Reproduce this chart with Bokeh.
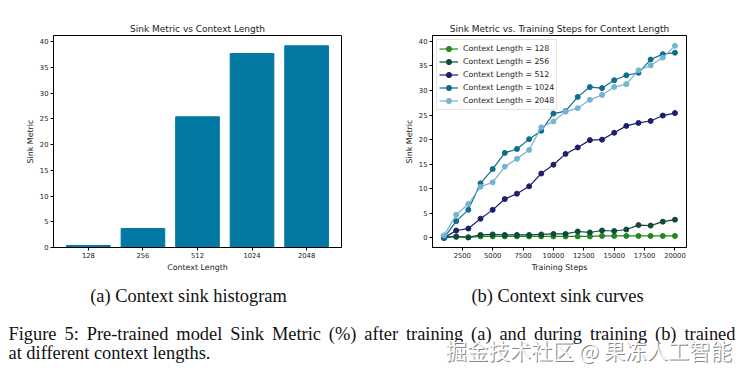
from bokeh.plotting import figure
from bokeh.models import Range1d, FixedTicker, Legend, LegendItem
from bokeh.layouts import column, row
from bokeh.embed import file_html
from bokeh.resources import INLINE
from bokeh.core.properties import value

# ---------------- data ----------------
context_labels = ["128", "256", "512", "1024", "2048"]
final_sink = [0.4, 3.7, 25.4, 37.7, 39.2]

steps = [1000, 2000, 3000, 4000, 5000, 6000, 7000, 8000, 9000, 10000,
         11000, 12000, 13000, 14000, 15000, 16000, 17000, 18000, 19000, 20000]
sink_128 = [0.3, 0.2, 0.1, 0.3, 0.3, 0.3, 0.3, 0.3, 0.3, 0.3,
            0.3, 0.3, 0.3, 0.4, 0.4, 0.4, 0.4, 0.4, 0.4, 0.4]
sink_256 = [0.0, 0.3, 0.1, 0.6, 0.7, 0.6, 0.6, 0.6, 0.7, 0.8,
            0.8, 1.3, 1.1, 1.5, 1.4, 1.7, 2.6, 2.5, 3.3, 3.7]
sink_512 = [0.0, 1.5, 1.9, 3.9, 5.7, 7.9, 9.0, 10.5, 13.1, 14.9,
            17.1, 18.4, 19.9, 20.0, 21.4, 22.8, 23.4, 23.8, 24.9, 25.4]
sink_1024 = [0.0, 3.4, 5.7, 11.1, 14.0, 17.3, 18.1, 20.1, 21.8, 25.3,
             25.8, 28.7, 30.7, 30.5, 32.1, 33.1, 33.6, 36.3, 37.4, 37.7]
sink_2048 = [0.5, 4.7, 6.9, 10.4, 11.3, 14.5, 16.1, 17.9, 22.5, 23.7,
             25.7, 26.4, 28.1, 29.1, 30.7, 31.3, 34.1, 35.1, 36.7, 39.1]
series_labels = ["Context Length = 128", "Context Length = 256", "Context Length = 512",
                 "Context Length = 1024", "Context Length = 2048"]
series_colors = ["#1f8a1f", "#0d4a3a", "#1b1f6e", "#0e6d8f", "#74b4d0"]

y_ticks = [0, 5, 10, 15, 20, 25, 30, 35, 40]
x_ticks_steps = [2500, 5000, 7500, 10000, 12500, 15000, 17500, 20000]

cap_a = "(a) Context sink histogram"
cap_b = "(b) Context sink curves"
cap_fig_1 = "Figure 5: Pre-trained model Sink Metric (%) after training (a) and during training (b) trained"
cap_fig_2 = "at different context lengths."
watermark = "掘金技术社区 @ 果冻人工智能"

FONT = "DejaVu Sans"
TICK = "6.8px"
LAB = "7.9px"
TIT = "9px"


def style(p):
    p.outline_line_color = "black"
    p.outline_line_width = 1
    p.xgrid.visible = False
    p.ygrid.visible = False
    p.background_fill_color = "white"
    p.border_fill_color = "white"
    for ax in (p.xaxis[0], p.yaxis[0]):
        ax.axis_line_color = "black"
        ax.major_tick_line_color = "black"
        ax.major_tick_in = 0
        ax.major_tick_out = 3
        ax.minor_tick_line_color = None
        ax.major_label_text_font = FONT
        ax.major_label_text_font_size = TICK
        ax.major_label_text_color = "#222222"
        ax.axis_label_text_font = FONT
        ax.axis_label_text_font_size = LAB
        ax.axis_label_text_font_style = "normal"
        ax.axis_label_text_color = "#222222"
        ax.major_label_standoff = 2
        ax.axis_label_standoff = 2
    p.title.text_font = FONT
    p.title.text_font_size = TIT
    p.title.text_font_style = "normal"
    p.title.align = "center"
    p.title.text_color = "#222222"
    p.title.standoff = 3


# ---------------- left: bar chart ----------------
xpos = list(range(len(context_labels)))
p1 = figure(width=383, height=278, output_backend="svg", toolbar_location=None,
            title="Sink Metric vs Context Length",
            x_range=Range1d(-0.64, 4.64), y_range=Range1d(0, 41.2),
            min_border_left=53, min_border_right=42, min_border_top=35, min_border_bottom=31)
p1.vbar(x=xpos, top=final_sink, width=0.8, color="#0278a3")
style(p1)
p1.xaxis[0].ticker = FixedTicker(ticks=xpos)
p1.xaxis[0].major_label_overrides = {i: s for i, s in enumerate(context_labels)}
p1.yaxis[0].ticker = FixedTicker(ticks=y_ticks)
p1.xaxis[0].axis_label = "Context Length"
p1.yaxis[0].axis_label = "Sink Metric"

# ---------------- right: line chart ----------------
p2 = figure(width=360, height=278, output_backend="svg", toolbar_location=None,
            title="Sink Metric vs. Training Steps for Context Length",
            x_range=Range1d(50, 20950), y_range=Range1d(-1.96, 41.2),
            min_border_left=49, min_border_right=57, min_border_top=33, min_border_bottom=30)
style(p2)
p2.xaxis[0].ticker = FixedTicker(ticks=x_ticks_steps)
p2.yaxis[0].ticker = FixedTicker(ticks=y_ticks)
p2.xaxis[0].axis_label = "Training Steps"
p2.yaxis[0].axis_label = "Sink Metric"

items = []
for ys, lab, col in zip([sink_128, sink_256, sink_512, sink_1024, sink_2048], series_labels, series_colors):
    l = p2.line(steps, ys, line_color=col, line_width=1.2)
    s = p2.scatter(steps, ys, size=5, fill_color=col, line_color=col)
    items.append(LegendItem(label=lab, renderers=[l, s]))
leg = Legend(items=items, location="top_left", margin=4, padding=2, spacing=0,
             label_height=13, glyph_height=13, glyph_width=19, label_standoff=5,
             label_text_font=FONT, label_text_font_size="7.8px", label_text_color="#222222",
             border_line_color="#cccccc", border_line_width=1,
             background_fill_color="white", background_fill_alpha=0.8)
p2.add_layout(leg)

# ---------------- captions ----------------
p3 = figure(width=743, height=91, output_backend="svg", toolbar_location=None,
            x_range=Range1d(0, 743), y_range=Range1d(91, 0),
            min_border=0)
p3.axis.visible = False
p3.xgrid.visible = False
p3.ygrid.visible = False
p3.outline_line_color = None
SERIF = value("Liberation Serif")
FS_PX = 18.4
FS = f"{FS_PX}px"

# Times-compatible advance widths (per 1000 em) for justifying the first caption line
TW = {' ': 250, 'a': 444, 'b': 500, 'c': 444, 'd': 500, 'e': 444, 'f': 333, 'g': 500,
      'h': 500, 'i': 278, 'j': 278, 'k': 500, 'l': 278, 'm': 778, 'n': 500, 'o': 500,
      'p': 500, 'q': 500, 'r': 333, 's': 389, 't': 278, 'u': 500, 'v': 500, 'w': 722,
      'x': 500, 'y': 500, 'z': 444, 'F': 556, 'M': 889, 'P': 556, 'S': 556, '(': 333,
      ')': 333, '%': 833, ':': 278, '-': 333, '5': 500, '.': 250}


def tw(s):
    return sum(TW.get(c, 500) for c in s) * FS_PX / 1000.0


words = cap_fig_1.split(" ")
natural = sum(tw(w) for w in words)
x0, x1 = 8.0, 735.0
gap = (x1 - x0 - natural) / (len(words) - 1)
wx = []
cur = x0
for w in words:
    wx.append(cur)
    cur += tw(w) + gap

p3.text(x=[188], y=[17], text=[cap_a], text_font=SERIF, text_font_size=FS,
        text_align="center", text_baseline="middle", text_color="#111111")
p3.text(x=[557], y=[17], text=[cap_b], text_font=SERIF, text_font_size=FS,
        text_align="center", text_baseline="middle", text_color="#111111")
p3.text(x=wx, y=[55] * len(words), text=words, text_font=SERIF, text_font_size=FS,
        text_align="left", text_baseline="middle", text_color="#111111")
p3.text(x=[8], y=[74], text=[cap_fig_2], text_font=SERIF, text_font_size=FS,
        text_align="left", text_baseline="middle", text_color="#111111")
CJK = value("Noto Sans CJK SC")
p3.text(x=[446], y=[72], text=[watermark], text_font=CJK, text_font_size="21.4px",
        text_align="left", text_baseline="middle", text_color="#777777", text_alpha=0.9)
p3.text(x=[445], y=[71], text=[watermark], text_font=CJK, text_font_size="21.4px",
        text_align="left", text_baseline="middle", text_color="#ffffff", text_alpha=0.95)

layout = column(row(p1, p2), p3)
open("out.html", "w").write(file_html(layout, INLINE))
